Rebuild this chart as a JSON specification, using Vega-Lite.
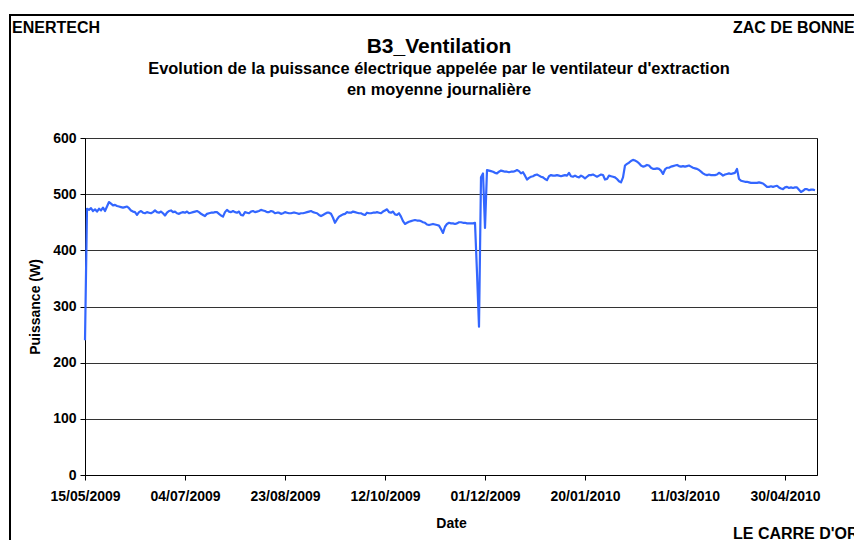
{
"$schema": "https://vega.github.io/schema/vega-lite/v6.json",
"width": 732, "height": 337,
"autosize": {"type": "none"},
"padding": {"left": 85, "top": 138, "right": 37, "bottom": 65},
"background": "white",
"config": {"font": "Liberation Sans", "view": {"stroke": "black", "strokeWidth": 1}},
"title": {"text": "B3_Ventilation", "subtitle": ["Evolution de la puissance électrique appelée par le ventilateur d'extraction", "en moyenne journalière"], "fontSize": 21, "fontWeight": "bold", "color": "black", "subtitleFontSize": 16.4, "subtitleFontWeight": "bold", "subtitleColor": "black", "subtitleLineHeight": 21, "subtitlePadding": 4, "anchor": "middle", "frame": "group", "dx": -12, "offset": -84},
"datasets": {"series": [
{"d":"2009-05-15","p":240},{"d":"2009-05-16","p":474},{"d":"2009-05-17","p":472},{"d":"2009-05-18","p":475},{"d":"2009-05-19","p":470},{"d":"2009-05-20","p":473},{"d":"2009-05-21","p":469},{"d":"2009-05-22","p":474},{"d":"2009-05-23","p":471},{"d":"2009-05-24","p":476},{"d":"2009-05-25","p":470},{"d":"2009-05-26","p":478},{"d":"2009-05-27","p":486},{"d":"2009-05-28","p":483},{"d":"2009-05-29","p":480},{"d":"2009-05-30","p":481},{"d":"2009-05-31","p":479},
{"d":"2009-06-01","p":478},{"d":"2009-06-02","p":477},{"d":"2009-06-03","p":476},{"d":"2009-06-04","p":477},{"d":"2009-06-05","p":478},{"d":"2009-06-06","p":475},{"d":"2009-06-07","p":471},{"d":"2009-06-08","p":469},{"d":"2009-06-09","p":468},{"d":"2009-06-10","p":463},{"d":"2009-06-11","p":468},{"d":"2009-06-12","p":470},{"d":"2009-06-13","p":467},{"d":"2009-06-14","p":466},{"d":"2009-06-15","p":468},{"d":"2009-06-16","p":467},{"d":"2009-06-17","p":466},{"d":"2009-06-18","p":468},{"d":"2009-06-19","p":471},{"d":"2009-06-20","p":468},{"d":"2009-06-21","p":467},{"d":"2009-06-22","p":469},{"d":"2009-06-23","p":466},{"d":"2009-06-24","p":462},{"d":"2009-06-25","p":467},{"d":"2009-06-26","p":470},{"d":"2009-06-27","p":471},{"d":"2009-06-28","p":468},{"d":"2009-06-29","p":469},{"d":"2009-06-30","p":466},
{"d":"2009-07-01","p":465},{"d":"2009-07-02","p":467},{"d":"2009-07-03","p":468},{"d":"2009-07-04","p":467},{"d":"2009-07-05","p":469},{"d":"2009-07-06","p":466},{"d":"2009-07-07","p":467},{"d":"2009-07-08","p":468},{"d":"2009-07-09","p":469},{"d":"2009-07-10","p":470},{"d":"2009-07-11","p":468},{"d":"2009-07-12","p":465},{"d":"2009-07-13","p":463},{"d":"2009-07-14","p":461},{"d":"2009-07-15","p":465},{"d":"2009-07-16","p":466},{"d":"2009-07-17","p":467},{"d":"2009-07-18","p":467},{"d":"2009-07-19","p":468},{"d":"2009-07-20","p":468},{"d":"2009-07-21","p":465},{"d":"2009-07-22","p":462},{"d":"2009-07-23","p":460},{"d":"2009-07-24","p":468},{"d":"2009-07-25","p":472},{"d":"2009-07-26","p":469},{"d":"2009-07-27","p":468},{"d":"2009-07-28","p":470},{"d":"2009-07-29","p":468},{"d":"2009-07-30","p":467},{"d":"2009-07-31","p":469},
{"d":"2009-08-01","p":463},{"d":"2009-08-02","p":462},{"d":"2009-08-03","p":468},{"d":"2009-08-04","p":467},{"d":"2009-08-05","p":466},{"d":"2009-08-06","p":469},{"d":"2009-08-07","p":470},{"d":"2009-08-08","p":468},{"d":"2009-08-09","p":469},{"d":"2009-08-10","p":470},{"d":"2009-08-11","p":472},{"d":"2009-08-12","p":471},{"d":"2009-08-13","p":470},{"d":"2009-08-14","p":468},{"d":"2009-08-15","p":468},{"d":"2009-08-16","p":470},{"d":"2009-08-17","p":469},{"d":"2009-08-18","p":466},{"d":"2009-08-19","p":467},{"d":"2009-08-20","p":467},{"d":"2009-08-21","p":465},{"d":"2009-08-22","p":466},{"d":"2009-08-23","p":468},{"d":"2009-08-24","p":467},{"d":"2009-08-25","p":466},{"d":"2009-08-26","p":466},{"d":"2009-08-27","p":467},{"d":"2009-08-28","p":467},{"d":"2009-08-29","p":466},{"d":"2009-08-30","p":465},{"d":"2009-08-31","p":466},
{"d":"2009-09-01","p":466},{"d":"2009-09-02","p":467},{"d":"2009-09-03","p":468},{"d":"2009-09-04","p":469},{"d":"2009-09-05","p":470},{"d":"2009-09-06","p":468},{"d":"2009-09-07","p":467},{"d":"2009-09-08","p":466},{"d":"2009-09-09","p":463},{"d":"2009-09-10","p":461},{"d":"2009-09-11","p":463},{"d":"2009-09-12","p":465},{"d":"2009-09-13","p":467},{"d":"2009-09-14","p":467},{"d":"2009-09-15","p":465},{"d":"2009-09-16","p":458},{"d":"2009-09-17","p":449},{"d":"2009-09-18","p":455},{"d":"2009-09-19","p":460},{"d":"2009-09-20","p":462},{"d":"2009-09-21","p":464},{"d":"2009-09-22","p":465},{"d":"2009-09-23","p":468},{"d":"2009-09-24","p":467},{"d":"2009-09-25","p":467},{"d":"2009-09-26","p":469},{"d":"2009-09-27","p":468},{"d":"2009-09-28","p":467},{"d":"2009-09-29","p":466},{"d":"2009-09-30","p":466},
{"d":"2009-10-01","p":464},{"d":"2009-10-02","p":463},{"d":"2009-10-03","p":467},{"d":"2009-10-04","p":466},{"d":"2009-10-05","p":466},{"d":"2009-10-06","p":467},{"d":"2009-10-07","p":467},{"d":"2009-10-08","p":468},{"d":"2009-10-09","p":467},{"d":"2009-10-10","p":466},{"d":"2009-10-11","p":469},{"d":"2009-10-12","p":471},{"d":"2009-10-13","p":473},{"d":"2009-10-14","p":468},{"d":"2009-10-15","p":467},{"d":"2009-10-16","p":469},{"d":"2009-10-17","p":464},{"d":"2009-10-18","p":463},{"d":"2009-10-19","p":466},{"d":"2009-10-20","p":460},{"d":"2009-10-21","p":452},{"d":"2009-10-22","p":447},{"d":"2009-10-23","p":449},{"d":"2009-10-24","p":451},{"d":"2009-10-25","p":452},{"d":"2009-10-26","p":453},{"d":"2009-10-27","p":454},{"d":"2009-10-28","p":453},{"d":"2009-10-29","p":453},{"d":"2009-10-30","p":452},{"d":"2009-10-31","p":450},
{"d":"2009-11-01","p":449},{"d":"2009-11-02","p":446},{"d":"2009-11-03","p":445},{"d":"2009-11-04","p":446},{"d":"2009-11-05","p":447},{"d":"2009-11-06","p":446},{"d":"2009-11-07","p":445},{"d":"2009-11-08","p":444},{"d":"2009-11-09","p":438},{"d":"2009-11-10","p":431},{"d":"2009-11-11","p":442},{"d":"2009-11-12","p":447},{"d":"2009-11-13","p":449},{"d":"2009-11-14","p":448},{"d":"2009-11-15","p":448},{"d":"2009-11-16","p":447},{"d":"2009-11-17","p":448},{"d":"2009-11-18","p":450},{"d":"2009-11-19","p":450},{"d":"2009-11-20","p":449},{"d":"2009-11-21","p":449},{"d":"2009-11-22","p":448},{"d":"2009-11-23","p":448},{"d":"2009-11-24","p":448},{"d":"2009-11-25","p":448},{"d":"2009-11-26","p":449},{"d":"2009-11-27","p":360},{"d":"2009-11-28","p":264},{"d":"2009-11-29","p":530},{"d":"2009-11-30","p":537},
{"d":"2009-12-01","p":440},{"d":"2009-12-02","p":543},{"d":"2009-12-03","p":542},{"d":"2009-12-04","p":541},{"d":"2009-12-05","p":540},{"d":"2009-12-06","p":538},{"d":"2009-12-07","p":537},{"d":"2009-12-08","p":540},{"d":"2009-12-09","p":542},{"d":"2009-12-10","p":541},{"d":"2009-12-11","p":540},{"d":"2009-12-12","p":540},{"d":"2009-12-13","p":539},{"d":"2009-12-14","p":540},{"d":"2009-12-15","p":540},{"d":"2009-12-16","p":541},{"d":"2009-12-17","p":543},{"d":"2009-12-18","p":541},{"d":"2009-12-19","p":537},{"d":"2009-12-20","p":539},{"d":"2009-12-21","p":533},{"d":"2009-12-22","p":526},{"d":"2009-12-23","p":529},{"d":"2009-12-24","p":531},{"d":"2009-12-25","p":532},{"d":"2009-12-26","p":534},{"d":"2009-12-27","p":535},{"d":"2009-12-28","p":533},{"d":"2009-12-29","p":531},{"d":"2009-12-30","p":530},{"d":"2009-12-31","p":527},
{"d":"2010-01-01","p":525},{"d":"2010-01-02","p":532},{"d":"2010-01-03","p":534},{"d":"2010-01-04","p":533},{"d":"2010-01-05","p":533},{"d":"2010-01-06","p":534},{"d":"2010-01-07","p":533},{"d":"2010-01-08","p":532},{"d":"2010-01-09","p":533},{"d":"2010-01-10","p":534},{"d":"2010-01-11","p":533},{"d":"2010-01-12","p":538},{"d":"2010-01-13","p":532},{"d":"2010-01-14","p":531},{"d":"2010-01-15","p":533},{"d":"2010-01-16","p":531},{"d":"2010-01-17","p":530},{"d":"2010-01-18","p":533},{"d":"2010-01-19","p":531},{"d":"2010-01-20","p":528},{"d":"2010-01-21","p":531},{"d":"2010-01-22","p":534},{"d":"2010-01-23","p":534},{"d":"2010-01-24","p":535},{"d":"2010-01-25","p":533},{"d":"2010-01-26","p":531},{"d":"2010-01-27","p":533},{"d":"2010-01-28","p":535},{"d":"2010-01-29","p":534},{"d":"2010-01-30","p":526},{"d":"2010-01-31","p":527},
{"d":"2010-02-01","p":533},{"d":"2010-02-02","p":532},{"d":"2010-02-03","p":531},{"d":"2010-02-04","p":530},{"d":"2010-02-05","p":527},{"d":"2010-02-06","p":523},{"d":"2010-02-07","p":521},{"d":"2010-02-08","p":530},{"d":"2010-02-09","p":551},{"d":"2010-02-10","p":554},{"d":"2010-02-11","p":556},{"d":"2010-02-12","p":559},{"d":"2010-02-13","p":561},{"d":"2010-02-14","p":560},{"d":"2010-02-15","p":558},{"d":"2010-02-16","p":555},{"d":"2010-02-17","p":551},{"d":"2010-02-18","p":549},{"d":"2010-02-19","p":550},{"d":"2010-02-20","p":552},{"d":"2010-02-21","p":551},{"d":"2010-02-22","p":547},{"d":"2010-02-23","p":545},{"d":"2010-02-24","p":545},{"d":"2010-02-25","p":546},{"d":"2010-02-26","p":545},{"d":"2010-02-27","p":542},{"d":"2010-02-28","p":536},
{"d":"2010-03-01","p":544},{"d":"2010-03-02","p":547},{"d":"2010-03-03","p":547},{"d":"2010-03-04","p":549},{"d":"2010-03-05","p":550},{"d":"2010-03-06","p":551},{"d":"2010-03-07","p":552},{"d":"2010-03-08","p":550},{"d":"2010-03-09","p":549},{"d":"2010-03-10","p":550},{"d":"2010-03-11","p":549},{"d":"2010-03-12","p":550},{"d":"2010-03-13","p":551},{"d":"2010-03-14","p":549},{"d":"2010-03-15","p":547},{"d":"2010-03-16","p":546},{"d":"2010-03-17","p":545},{"d":"2010-03-18","p":543},{"d":"2010-03-19","p":540},{"d":"2010-03-20","p":537},{"d":"2010-03-21","p":535},{"d":"2010-03-22","p":534},{"d":"2010-03-23","p":535},{"d":"2010-03-24","p":534},{"d":"2010-03-25","p":534},{"d":"2010-03-26","p":534},{"d":"2010-03-27","p":535},{"d":"2010-03-28","p":538},{"d":"2010-03-29","p":536},{"d":"2010-03-30","p":533},{"d":"2010-03-31","p":535},
{"d":"2010-04-01","p":536},{"d":"2010-04-02","p":537},{"d":"2010-04-03","p":536},{"d":"2010-04-04","p":537},{"d":"2010-04-05","p":538},{"d":"2010-04-06","p":545},{"d":"2010-04-07","p":527},{"d":"2010-04-08","p":524},{"d":"2010-04-09","p":523},{"d":"2010-04-10","p":522},{"d":"2010-04-11","p":522},{"d":"2010-04-12","p":521},{"d":"2010-04-13","p":520},{"d":"2010-04-14","p":520},{"d":"2010-04-15","p":520},{"d":"2010-04-16","p":520},{"d":"2010-04-17","p":521},{"d":"2010-04-18","p":520},{"d":"2010-04-19","p":519},{"d":"2010-04-20","p":516},{"d":"2010-04-21","p":513},{"d":"2010-04-22","p":513},{"d":"2010-04-23","p":514},{"d":"2010-04-24","p":513},{"d":"2010-04-25","p":514},{"d":"2010-04-26","p":515},{"d":"2010-04-27","p":512},{"d":"2010-04-28","p":510},{"d":"2010-04-29","p":509},{"d":"2010-04-30","p":512},
{"d":"2010-05-01","p":513},{"d":"2010-05-02","p":511},{"d":"2010-05-03","p":512},{"d":"2010-05-04","p":511},{"d":"2010-05-05","p":512},{"d":"2010-05-06","p":512},{"d":"2010-05-07","p":508},{"d":"2010-05-08","p":504},{"d":"2010-05-09","p":506},{"d":"2010-05-10","p":509},{"d":"2010-05-11","p":509},{"d":"2010-05-12","p":507},{"d":"2010-05-13","p":508},{"d":"2010-05-14","p":508},{"d":"2010-05-15","p":507}
]},
"layer": [
{"data": {"name": "series"},
 "mark": {"type": "line", "color": "#3366ff", "strokeWidth": 2.2, "strokeJoin": "round"},
 "encoding": {
  "x": {"field": "d", "type": "temporal", "title": "Date",
   "scale": {"type": "utc", "domain": [{"year": 2009, "month": 5, "date": 15, "utc": true}, {"year": 2010, "month": 5, "date": 16, "utc": true}]},
   "axis": {"values": [{"year": 2009, "month": 5, "date": 15, "utc": true}, {"year": 2009, "month": 7, "date": 4, "utc": true}, {"year": 2009, "month": 8, "date": 23, "utc": true}, {"year": 2009, "month": 10, "date": 12, "utc": true}, {"year": 2009, "month": 12, "date": 1, "utc": true}, {"year": 2010, "month": 1, "date": 20, "utc": true}, {"year": 2010, "month": 3, "date": 11, "utc": true}, {"year": 2010, "month": 4, "date": 30, "utc": true}],
    "labelExpr": "utcFormat(datum.value, '%d/%m/%Y')", "grid": false, "domainColor": "black", "tickColor": "black", "tickSize": 5, "labelPadding": 9, "labelFontSize": 14, "labelFontWeight": "bold", "labelColor": "black", "labelFlush": false, "labelOverlap": false, "titleFontSize": 14, "titleFontWeight": "bold", "titleColor": "black", "titlePadding": 13}},
  "y": {"field": "p", "type": "quantitative", "title": "Puissance (W)",
   "scale": {"domain": [0, 600]},
   "axis": {"values": [0, 100, 200, 300, 400, 500, 600], "grid": true, "gridColor": "#333333", "gridWidth": 1, "domainColor": "black", "tickColor": "black", "tickSize": 5, "labelPadding": 4, "labelFontSize": 14, "labelFontWeight": "bold", "labelColor": "black", "titleFontSize": 14, "titleFontWeight": "bold", "titleColor": "black", "titlePadding": 10}}
 }},
{"data": {"values": [{}]}, "mark": {"type": "text", "text": "ENERTECH", "x": -73, "y": -105, "align": "left", "baseline": "alphabetic", "fontSize": 16, "fontWeight": "bold", "color": "black"}, "encoding": {}},
{"data": {"values": [{}]}, "mark": {"type": "text", "text": "ZAC DE BONNE", "x": 648, "y": -105, "align": "left", "baseline": "alphabetic", "fontSize": 16, "fontWeight": "bold", "color": "black"}, "encoding": {}},
{"data": {"values": [{}]}, "mark": {"type": "text", "text": "LE CARRE D'OR", "x": 648, "y": 401, "align": "left", "baseline": "alphabetic", "fontSize": 16, "fontWeight": "bold", "color": "black"}, "encoding": {}},
{"data": {"values": [{}]}, "mark": {"type": "rect", "x": -75, "y": -123, "x2": 900, "y2": 600, "fill": "transparent", "stroke": "black", "strokeWidth": 2}, "encoding": {}}
]
}
